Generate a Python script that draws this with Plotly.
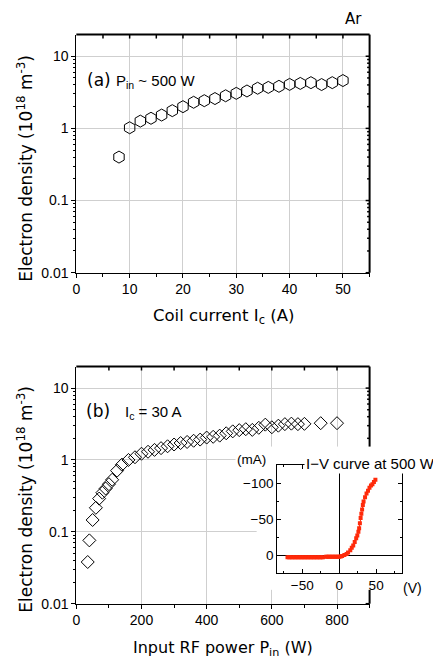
import math
import plotly.graph_objects as go

# ---------------- data ----------------
# (a) electron density vs coil current, P_in ~ 500 W
coil_current = [8, 10, 12, 14, 16, 18, 20, 22, 24, 26, 28, 30, 32, 34, 36, 38, 40, 42, 44, 46, 48, 50]
density_a = [0.40, 1.02, 1.26, 1.38, 1.53, 1.76, 2.0, 2.3, 2.42, 2.59, 2.83, 3.06, 3.3, 3.6,
             3.7, 3.83, 4.07, 4.2, 4.3, 4.05, 4.3, 4.6]

# (b) electron density vs input RF power, I_c = 30 A
rf_power = [35, 40, 50, 60, 70, 80, 90, 100, 110, 125, 140, 160, 180, 200, 220, 240, 260, 280,
            300, 320, 340, 360, 380, 400, 420, 440, 460, 480, 500, 520, 540, 560, 580, 600,
            620, 640, 660, 680, 700, 750, 800]
density_b = [0.038, 0.076, 0.146, 0.216, 0.29, 0.35, 0.40, 0.46, 0.53, 0.71, 0.86, 1.0, 1.09,
             1.22, 1.3, 1.38, 1.46, 1.55, 1.64, 1.72, 1.78, 1.85, 1.92, 2.05, 2.1, 2.18, 2.35,
             2.5, 2.6, 2.68, 2.62, 2.8, 3.1, 2.85, 3.0, 3.15, 3.2, 3.15, 3.18, 3.25, 3.25]

# inset: probe I-V curve at 500 W
probe_voltage = [-70, -68, -66, -64, -62, -60, -58, -56, -54, -52, -50, -48, -46, -44, -42, -40,
                 -38, -36, -34, -32, -30, -28, -26, -24, -22,
                 -18, -16, -14, -12, -10, -8, -6, -4, -2, 0, 2,
                 4, 7, 10, 12, 15, 17, 19, 21, 23, 24.5, 26, 27, 28, 29, 30, 31, 32, 33, 35,
                 37, 39, 41, 43, 45, 47, 49]
probe_current = [2.3, 2.3, 2.3, 2.3, 2.3, 2.3, 2.3, 2.3, 2.3, 2.3, 2.3, 2.3, 2.3, 2.3, 2.3, 2.3,
                 2.3, 2.3, 2.3, 2.3, 2.3, 2.3, 2.3, 2.3, 2.3,
                 1.5, 1.5, 1.5, 1.5, 1.5, 1.5, 1.5, 1.5, 1.5, 1.5, 1.2,
                 0.5, -1, -2.5, -4.5, -7.5, -11, -14, -19, -24, -28, -33, -38, -45, -52, -58,
                 -64, -70, -75, -81, -86, -90, -94, -97, -99, -102, -105]

log_ticks = [0.01, 0.1, 1, 10]
log_tick_text = ["0.01", "0.1", "1", "10"]

# ---------------- layout geometry (pixels) ----------------
W_PX, H_PX = 433, 666
TICK_FONT = "Liberation Sans"
TITLE_FONT = "DejaVu Sans"

PLOT_L, PLOT_R = 73, 369
TOP_T, TOP_B = 35, 276
BOT_T, BOT_B = 371, 611
IN_L, IN_R, IN_T, IN_B = 275.7, 401.7, 471, 580
BOX_L, BOX_T, BOX_B = 255, 452, 597  # white area behind the inset

LOG_RANGE = [-2, 1.3]
XA_RANGE = [0, 55]
XB_RANGE = [0, 900]
V_RANGE = [-84, 85]
I_RANGE = [24, -125]


def fx(p):
    return p / W_PX


def fy(p):
    return 1 - p / H_PX


MAIN_X = [fx(PLOT_L), fx(PLOT_R)]
TOP_Y = [fy(TOP_B), fy(TOP_T)]
BOT_Y = [fy(BOT_B), fy(BOT_T)]
IN_X = [fx(IN_L), fx(IN_R)]
IN_Y = [fy(IN_B), fy(IN_T)]

tick_font = dict(family=TICK_FONT, size=14, color="black")
GRID = "#cfcfcf"
RED = "#ff2a0a"

fig = go.Figure()
fig.add_trace(go.Scatter(
    x=coil_current, y=density_a, mode="markers", xaxis="x", yaxis="y",
    marker=dict(symbol="hexagon-open", size=12, color="black", line=dict(width=1)),
    showlegend=False, hoverinfo="skip"))
fig.add_trace(go.Scatter(
    x=rf_power, y=density_b, mode="markers", xaxis="x2", yaxis="y2",
    marker=dict(symbol="diamond-open", size=10, color="black", line=dict(width=1)),
    showlegend=False, hoverinfo="skip"))
# empty subplot whose own white background masks panel (b) behind the inset
fig.add_trace(go.Scatter(x=[None], y=[None], mode="markers", xaxis="x3", yaxis="y3",
                         showlegend=False, hoverinfo="skip"))
fig.add_trace(go.Scatter(
    x=probe_voltage, y=probe_current, mode="lines+markers", xaxis="x4", yaxis="y4",
    marker=dict(symbol="square", size=4, color=RED, line=dict(width=0)),
    line=dict(width=1, color=RED),
    showlegend=False, hoverinfo="skip"))


def main_x(anchor, rng, dtick, minor_dtick):
    return dict(domain=MAIN_X, anchor=anchor, range=rng, dtick=dtick, tick0=0,
                ticks="outside", ticklen=4, tickcolor="black",
                minor=dict(ticks="outside", ticklen=3, dtick=minor_dtick, tickcolor="black", showgrid=False),
                showgrid=True, gridcolor=GRID, gridwidth=1, zeroline=False,
                showline=True, linecolor="black", linewidth=1, tickfont=tick_font)


def main_y(domain, anchor):
    return dict(domain=domain, anchor=anchor, type="log", range=LOG_RANGE,
                tickvals=log_ticks, ticktext=log_tick_text,
                ticks="outside", ticklen=4, tickcolor="black",
                minor=dict(ticks="outside", ticklen=2, dtick="D1", tickcolor="black", showgrid=False),
                showgrid=True, gridcolor=GRID, gridwidth=1, zeroline=False,
                showline=True, linecolor="black", linewidth=1, tickfont=tick_font)


inset_axis = dict(dtick=50, tick0=0, ticks="inside", ticklen=4, tickcolor="black", mirror="ticks",
                  minor=dict(ticks="inside", ticklen=2, dtick=25, tickcolor="black", showgrid=False),
                  showgrid=False, zeroline=True, zerolinecolor="black", zerolinewidth=1,
                  showline=True, linecolor="black", linewidth=1,
                  tickfont=dict(family=TICK_FONT, size=13.5, color="black"))

fig.update_layout(
    width=W_PX, height=H_PX,
    margin=dict(l=0, r=0, t=0, b=0),
    paper_bgcolor="white", plot_bgcolor="white",
    font=dict(family=TICK_FONT, color="black"),
    xaxis=main_x("y", XA_RANGE, 10, 5),
    yaxis=main_y(TOP_Y, "x"),
    xaxis2=main_x("y2", XB_RANGE, 200, 100),
    yaxis2=main_y(BOT_Y, "x2"),
    xaxis3=dict(domain=[fx(BOX_L), 1], anchor="y3", range=[0, 1], visible=False),
    yaxis3=dict(domain=[fy(BOX_B), fy(BOX_T)], anchor="x3", range=[0, 1], visible=False),
    xaxis4=dict(domain=IN_X, anchor="y4", range=V_RANGE, **inset_axis),
    yaxis4=dict(domain=IN_Y, anchor="x4", range=I_RANGE, **inset_axis),
)

# ---------- top / right frame of the two main panels, with inward ticks ----------
FRAME = dict(color="black", width=2)
TICK = dict(color="black", width=1.5)


def seg(xr, yr, x0, x1, y0, y1, line):
    return dict(type="line", xref=xr, yref=yr, layer="above",
                x0=x0, x1=x1, y0=y0, y1=y1, line=line)


def log_tick_values():
    vals = []
    for d in range(math.floor(LOG_RANGE[0]), math.ceil(LOG_RANGE[1]) + 1):
        for k in range(1, 10):
            lv = math.log10(k * 10 ** d)
            if LOG_RANGE[0] - 1e-9 <= lv <= LOG_RANGE[1] + 1e-9:
                vals.append((lv, k == 1))
    return vals


def panel_frame(n, x_range, x_step, top_px, bot_px, hide=None):
    xr, yr = ("x%s domain" % n), ("y%s domain" % n)
    w = PLOT_R - PLOT_L
    h = bot_px - top_px

    def dom_y(p):
        return (bot_px - p) / h

    out = [seg(xr, yr, 0, 1, 1, 1, FRAME)]
    if hide:
        out.append(seg(xr, yr, 1, 1, dom_y(hide[0]), 1, FRAME))
        out.append(seg(xr, yr, 1, 1, 0, dom_y(hide[1]), FRAME))
    else:
        out.append(seg(xr, yr, 1, 1, 0, 1, FRAME))
    v = x_range[0] + x_step
    while v < x_range[1] - 1e-9:
        f = (v - x_range[0]) / (x_range[1] - x_range[0])
        out.append(seg(xr, yr, f, f, 1, 1 - 4 / h, TICK))
        v += x_step
    for lv, major in log_tick_values():
        f = (lv - LOG_RANGE[0]) / (LOG_RANGE[1] - LOG_RANGE[0])
        p = bot_px - f * h
        if hide and hide[0] - 1 < p < hide[1] + 1:
            continue
        ln = 4 if major else 2.5
        out.append(seg(xr, yr, 1, 1 - ln / w, f, f, TICK))
    return out


shapes = panel_frame("", XA_RANGE, 5, TOP_T, TOP_B)
shapes += panel_frame("2", XB_RANGE, 100, BOT_T, BOT_B, hide=(BOX_T, BOX_B))
fig.update_layout(shapes=shapes)


def ann(text, x, y, size, family=TITLE_FONT, xanchor="center", angle=0, bg=None):
    d = dict(text=text, x=fx(x), y=fy(y), xref="paper", yref="paper", showarrow=False,
             xanchor=xanchor, yanchor="middle", textangle=angle,
             font=dict(family=family, size=size, color="black"))
    if bg:
        d["bgcolor"] = bg
        d["borderpad"] = 1
    return d


annotations = [
    ann("Ar", 353, 19, 15),
    ann("(a)", 82, 81, 17, xanchor="left"),
    ann("P<sub>in</sub> ~ 500 W", 111, 82, 15, family=TICK_FONT, xanchor="left"),
    ann("(b)", 81, 416, 17, xanchor="left"),
    ann("I<sub>c</sub> = 30 A", 120, 418, 15, family=TICK_FONT, xanchor="left"),
    ann("Electron density (10<sup>18</sup> m<sup>-3</sup>)", 21, 170, 17, angle=-90),
    ann("Electron density (10<sup>18</sup> m<sup>-3</sup>)", 21, 505, 17, angle=-90),
    ann("Coil current I<sub>c</sub> (A)", 222, 320, 16.5),
    ann("Input RF power P<sub>in</sub> (W)", 221, 656, 16),
    ann("(mA)", 250, 465, 13.5, family=TICK_FONT, bg="white"),
    ann("I−V curve at 500 W", 303, 469, 15, family=TICK_FONT, xanchor="left", bg="white"),
    ann("(V)", 412, 595, 14, family=TICK_FONT),
]
fig.update_layout(annotations=annotations)

fig.write_html("out.html", config={"displayModeBar": False},
               post_script="document.body.style.margin='0';")
